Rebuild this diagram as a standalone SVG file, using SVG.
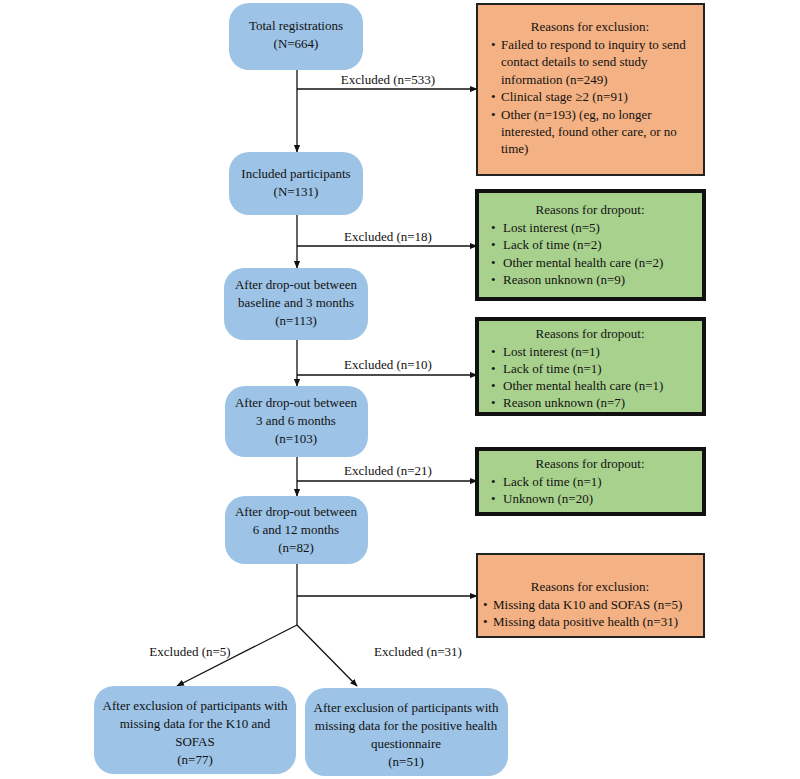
<svg xmlns="http://www.w3.org/2000/svg" width="800" height="779" viewBox="0 0 800 779" font-family="'Liberation Serif', 'DejaVu Serif', serif" font-size="13">
<defs>
<style>
text{font-family:'Liberation Serif','DejaVu Serif',serif;font-size:13px;fill:#111}
.c{text-anchor:middle}
.n{fill:#9DC3E6}
.o{fill:#F4B183;stroke:#222;stroke-width:2}
.g{fill:#A9D18E;stroke:#111;stroke-width:4}
.l{stroke:#111;stroke-width:1.3;fill:none}
</style>
<marker id="a" viewBox="0 0 10 10" refX="9" refY="5" markerWidth="6" markerHeight="6" orient="auto"><path d="M0,1 L10,5 L0,9 z" fill="#111"/></marker>
</defs>
<rect width="800" height="779" fill="#fff"/>
<g id="connectors">
<path class="l" d="M297,70 V152" marker-end="url(#a)"/>
<path class="l" d="M297,89 H477" marker-end="url(#a)"/>
<path class="l" d="M297,215 V268" marker-end="url(#a)"/>
<path class="l" d="M297,246 H477" marker-end="url(#a)"/>
<path class="l" d="M297,340 V386" marker-end="url(#a)"/>
<path class="l" d="M297,375 H477" marker-end="url(#a)"/>
<path class="l" d="M297,457 V496" marker-end="url(#a)"/>
<path class="l" d="M297,481 H477" marker-end="url(#a)"/>
<path class="l" d="M297,564 V625"/>
<path class="l" d="M297,596 H477" marker-end="url(#a)"/>
<path class="l" d="M297,625 L177,686" marker-end="url(#a)"/>
<path class="l" d="M297,625 L357,686" marker-end="url(#a)"/>
<text class="c" x="388" y="84">Excluded (n=533)</text>
<text class="c" x="388" y="241">Excluded (n=18)</text>
<text class="c" x="388" y="369">Excluded (n=10)</text>
<text class="c" x="388" y="475">Excluded (n=21)</text>
<text class="c" x="190" y="656">Excluded (n=5)</text>
<text class="c" x="418" y="656">Excluded (n=31)</text>
</g>
<g id="n1"><rect class="n" x="229" y="3" width="134" height="67" rx="20"/><text class="c" x="296" y="30">Total registrations</text><text class="c" x="296" y="48">(N=664)</text></g>
<g id="n2"><rect class="n" x="229" y="152" width="134" height="63" rx="20"/><text class="c" x="296" y="178">Included participants</text><text class="c" x="296" y="196">(N=131)</text></g>
<g id="n3"><rect class="n" x="224" y="268" width="144" height="72" rx="20"/><text class="c" x="296" y="289">After drop-out between</text><text class="c" x="296" y="307">baseline and 3 months</text><text class="c" x="296" y="325">(n=113)</text></g>
<g id="n4"><rect class="n" x="225" y="386" width="143" height="71" rx="20"/><text class="c" x="296" y="407">After drop-out between</text><text class="c" x="296" y="425">3 and 6 months</text><text class="c" x="296" y="443">(n=103)</text></g>
<g id="n5"><rect class="n" x="225" y="496" width="143" height="68" rx="20"/><text class="c" x="296" y="516">After drop-out between</text><text class="c" x="296" y="534">6 and 12 months</text><text class="c" x="296" y="552">(n=82)</text></g>
<g id="n6"><rect class="n" x="94" y="686" width="202" height="88" rx="20"/><text class="c" x="195" y="710">After exclusion of participants with</text><text class="c" x="195" y="728">missing data for the K10 and</text><text class="c" x="195" y="746">SOFAS</text><text class="c" x="195" y="764">(n=77)</text></g>
<g id="n7"><rect class="n" x="305" y="688" width="203" height="88" rx="20"/><text class="c" x="406" y="712">After exclusion of participants with</text><text class="c" x="406" y="730">missing data for the positive health</text><text class="c" x="406" y="748">questionnaire</text><text class="c" x="406" y="766">(n=51)</text></g>
<g id="r1"><rect class="o" x="477" y="4" width="227" height="171"/><text class="c" x="590" y="31">Reasons for exclusion:</text>
<text x="491" y="49">•</text><text x="501" y="49">Failed to respond to inquiry to send</text><text x="501" y="66">contact details to send study</text><text x="501" y="84">information (n=249)</text>
<text x="491" y="101">•</text><text x="501" y="101">Clinical stage ≥2 (n=91)</text>
<text x="491" y="119">•</text><text x="501" y="119">Other (n=193) (eg, no longer</text><text x="501" y="136">interested, found other care, or no</text><text x="501" y="153">time)</text></g>
<g id="r2"><rect class="g" x="477" y="191" width="227" height="108"/><text class="c" x="590" y="214">Reasons for dropout:</text>
<text x="491" y="232">•</text><text x="503" y="232">Lost interest (n=5)</text>
<text x="491" y="249">•</text><text x="503" y="249">Lack of time (n=2)</text>
<text x="491" y="267">•</text><text x="503" y="267">Other mental health care (n=2)</text>
<text x="491" y="284">•</text><text x="503" y="284">Reason unknown (n=9)</text></g>
<g id="r3"><rect class="g" x="477" y="319" width="227" height="95"/><text class="c" x="590" y="338">Reasons for dropout:</text>
<text x="491" y="356">•</text><text x="503" y="356">Lost interest (n=1)</text>
<text x="491" y="373">•</text><text x="503" y="373">Lack of time (n=1)</text>
<text x="491" y="390">•</text><text x="503" y="390">Other mental health care (n=1)</text>
<text x="491" y="407">•</text><text x="503" y="407">Reason unknown (n=7)</text></g>
<g id="r4"><rect class="g" x="477" y="449" width="227" height="65"/><text class="c" x="590" y="468">Reasons for dropout:</text>
<text x="491" y="486">•</text><text x="503" y="486">Lack of time (n=1)</text>
<text x="491" y="503">•</text><text x="503" y="503">Unknown (n=20)</text></g>
<g id="r5"><rect class="o" x="477" y="554" width="227" height="83"/><text class="c" x="590" y="591">Reasons for exclusion:</text>
<text x="483" y="609">•</text><text x="493" y="609">Missing data K10 and SOFAS (n=5)</text>
<text x="483" y="626">•</text><text x="493" y="626">Missing data positive health (n=31)</text></g>
</svg>
